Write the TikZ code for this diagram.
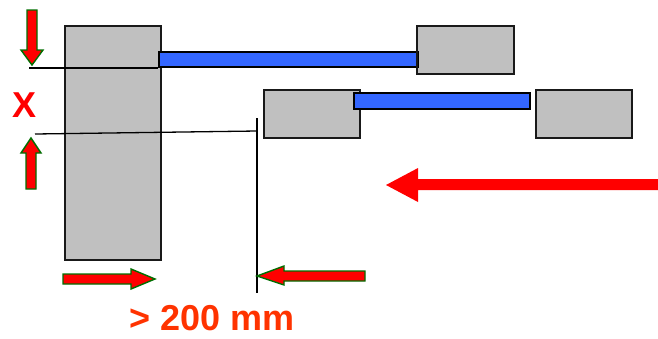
\documentclass[tikz,border=0pt]{standalone}
\usepackage{fontspec}
\setmainfont{Liberation Sans}
\begin{document}
\begin{tikzpicture}[x=1pt,y=-1pt,
  graybox/.style={draw=black!90,line width=1.7pt,fill={rgb,255:red,192;green,192;blue,192},inner sep=0pt,anchor=north west},
  bluebar/.style={draw=black,line width=1.7pt,fill={rgb,255:red,51;green,102;blue,255},inner sep=0pt,anchor=north west},
  garrow/.style={draw={rgb,255:red,0;green,110;blue,0},line width=1.4pt,fill=red,line join=miter},
  thinline/.style={draw=black,line width=1.3pt},
  lab/.style={font=\bfseries\fontsize{36}{36}\selectfont,inner sep=0pt}]
\useasboundingbox (0,0) rectangle (658,338);
% boxes
\node[graybox,minimum width=96pt,minimum height=234pt] (big) at (64,25) {};
\node[graybox,minimum width=97pt,minimum height=48pt] (tr) at (416,25) {};
\node[graybox,minimum width=96pt,minimum height=48pt] (mid) at (263,89) {};
\node[graybox,minimum width=96pt,minimum height=48pt] (rr) at (535,89) {};
% blue bars
\node[bluebar,minimum width=259pt,minimum height=15pt] (bar1) at (158,51) {};
\node[graybox,minimum width=97pt,minimum height=48pt,fill=none] (tredge) at (416,25) {};
\node[bluebar,minimum width=176pt,minimum height=16pt] (bar2) at (353,92) {};
% thin lines
\coordinate (l1a) at (29,68);
\coordinate (l1b) at (158,68);
\draw[thinline] (l1a) -- (l1b);
\coordinate (l2a) at (35,134);
\coordinate (l2b) at (257,131);
\draw[thinline] (l2a) -- (l2b);
\coordinate (v1) at (257,118);
\coordinate (v2) at (257,293);
\draw[thinline] (v1) -- (v2);
% green-outlined arrows
\draw[garrow] (27,10) -- (37,10) -- (37,50) -- (43,50) -- (32,65) -- (21,50) -- (27,50) -- cycle;
\draw[garrow] (26,189) -- (36,189) -- (36,153) -- (41,153) -- (31,138) -- (21,153) -- (26,153) -- cycle;
\draw[garrow] (63,274) -- (131,274) -- (131,269) -- (155,279) -- (131,289) -- (131,284) -- (63,284) -- cycle;
\draw[garrow] (365,271) -- (284,271) -- (284,266) -- (257,276) -- (284,285) -- (284,281) -- (365,281) -- cycle;
% big red arrow
\fill[red] (658,179) -- (418,179) -- (418,168) -- (386,185) -- (418,202) -- (418,190) -- (658,190) -- cycle;
% labels
\node[lab,text=red] (x) at (25,105) {X};
\node[lab,text={rgb,255:red,255;green,51;blue,0}] (mm) at (212,318) {> 200 mm};
\end{tikzpicture}
\end{document}
